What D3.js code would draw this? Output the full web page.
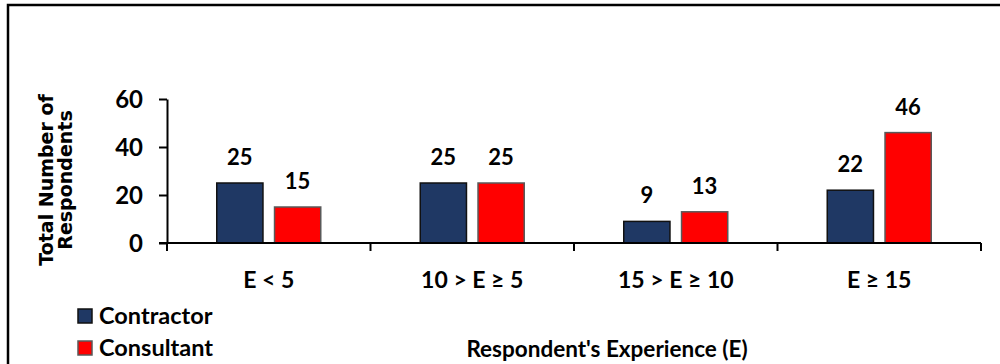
<!DOCTYPE html>
<html>
<head>
<meta charset="utf-8">
<script src="https://cdn.jsdelivr.net/npm/d3@7"></script>
<style>
  html, body { margin: 0; padding: 0; background: #fff; }
  svg { display: block; }
  text { font-family: Lato, "Open Sans", sans-serif; font-weight: 700; fill: #000; }
</style>
</head>
<body>
<svg id="chart" width="1000" height="364"></svg>
<script>
// Respondents by experience band
const categories = ["E < 5", "10 > E \u2265 5", "15 > E \u2265 10", "E \u2265 15"];
const series = ["Contractor", "Consultant"];
const contractor = [25, 25, 9, 22];
const consultant = [15, 25, 13, 46];
const yTicks = [0, 20, 40, 60];

const colors = { Contractor: "#1F3864", Consultant: "#FF0000" };
const strokes = { Contractor: "#111111", Consultant: "#595959" };
const valuesBySeries = { Contractor: contractor, Consultant: consultant };

const svg = d3.select("#chart");

// outer frame
svg.append("rect")
  .attr("x", 8).attr("y", 5)
  .attr("width", 1010).attr("height", 400)
  .attr("fill", "none").attr("stroke", "#000").attr("stroke-width", 2.5);

const plot = { left: 167, right: 981, top: 99, bottom: 243 };

const x0 = d3.scaleBand().domain(categories).range([plot.left, plot.right]).padding(0);
const bw = x0.bandwidth();
const x1 = d3.scaleBand().domain(series)
  .range([bw / 2 - 52, bw / 2 + 52]).paddingInner(0.2).paddingOuter(0);
const y = d3.scaleLinear().domain([0, 60]).range([plot.bottom, plot.top]);

// bars
const groups = svg.append("g").selectAll("g")
  .data(categories).join("g")
  .attr("transform", d => `translate(${x0(d)},0)`);

const cells = groups.selectAll("g.cell")
  .data((c, i) => series.map(s => ({ series: s, value: valuesBySeries[s][i] })))
  .join("g").attr("class", "cell");

cells.append("rect")
  .attr("x", d => x1(d.series))
  .attr("y", d => y(d.value))
  .attr("width", x1.bandwidth())
  .attr("height", d => y(0) - y(d.value))
  .attr("fill", d => colors[d.series])
  .attr("stroke", d => strokes[d.series])
  .attr("stroke-width", 1.5);

cells.append("text")
  .attr("x", d => x1(d.series) + x1.bandwidth() / 2)
  .attr("y", d => y(d.value) - 18)
  .attr("text-anchor", "middle")
  .style("font-size", "22px")
  .text(d => d.value);

// y axis
const yAxis = svg.append("g")
  .attr("transform", `translate(${plot.left},0)`)
  .call(d3.axisLeft(y).tickValues(yTicks).tickSize(8).tickPadding(16).tickSizeOuter(0));
yAxis.select(".domain").attr("stroke", "#000").attr("stroke-width", 2);
yAxis.selectAll(".tick line").attr("stroke", "#000").attr("stroke-width", 2);
yAxis.selectAll(".tick text")
  .style("font-family", "Lato, sans-serif").style("font-weight", 700)
  .style("font-size", "24px").attr("fill", "#000").attr("dy", "0.36em");

// x axis: baseline with ticks at the category boundaries
const bounds = categories.map(c => x0(c)).concat([plot.right]);
svg.append("line")
  .attr("x1", plot.left - 8).attr("x2", plot.right)
  .attr("y1", y(0)).attr("y2", y(0))
  .attr("stroke", "#000").attr("stroke-width", 2);
svg.append("g").selectAll("line")
  .data(bounds).join("line")
  .attr("x1", d => d).attr("x2", d => d)
  .attr("y1", y(0)).attr("y2", y(0) + 8)
  .attr("stroke", "#000").attr("stroke-width", 2);

svg.append("g").selectAll("text")
  .data(categories).join("text")
  .attr("x", d => x0(d) + bw / 2)
  .attr("y", 288)
  .attr("text-anchor", "middle")
  .style("font-size", "23px")
  .text(d => d);

// axis titles
svg.append("text")
  .attr("x", 607).attr("y", 357)
  .attr("text-anchor", "middle")
  .style("font-size", "22.5px")
  .text("Respondent's Experience (E)");

const yTitle = svg.append("text")
  .attr("transform", "translate(0,180) rotate(-90)")
  .attr("text-anchor", "middle")
  .style("font-family", "DejaVu Sans")
  .style("font-size", "19px");
yTitle.append("tspan").attr("x", 0).attr("y", 53).text("Total Number of");
yTitle.append("tspan").attr("x", 0).attr("y", 72).text("Respondents");

// legend
const legend = svg.append("g").selectAll("g")
  .data(series).join("g")
  .attr("transform", (d, i) => `translate(78,${309 + i * 32})`);
legend.append("rect")
  .attr("width", 14).attr("height", 14)
  .attr("fill", d => colors[d])
  .attr("stroke", d => strokes[d]).attr("stroke-width", 1.5);
legend.append("text")
  .attr("x", 21).attr("y", 15)
  .style("font-size", "23.5px")
  .text(d => d);
</script>
</body>
</html>
